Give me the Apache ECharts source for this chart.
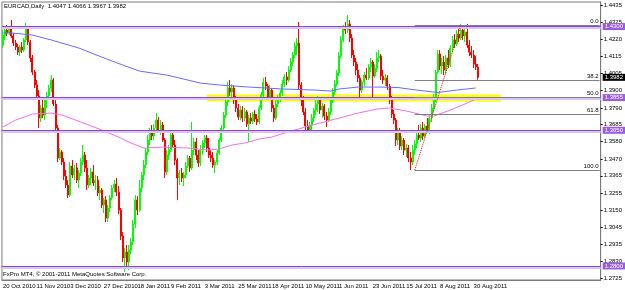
<!DOCTYPE html>
<html><head><meta charset="utf-8">
<script src="https://cdn.jsdelivr.net/npm/echarts@6/dist/echarts.min.js"></script>
<style>html,body{margin:0;padding:0;background:#fff}#c{width:625px;height:290px}</style>
</head><body><div id="c"></div>
<script>
// ---------- data ----------
const chartTitle = 'EURCAD,Daily  1.4047 1.4066 1.3967 1.3982';
const footerText = 'FxPro MT4, \u00a9 2001-2011 MetaQuotes Software Corp.';
const firstDay = [2010, 9, 20];     // 20 Oct 2010, trading weekdays
const slotCount = 285;              // visible bar slots incl. empty space on the right

const opens = [1.4184,1.4247,1.4278,1.4260,1.4291,1.4241,1.4197,1.4172,1.4140,1.4172,
1.4153,1.4216,1.4291,1.4203,1.4103,1.4015,1.3934,1.3865,1.3727,1.3790,
1.3746,1.3840,1.3865,1.3915,1.3965,1.3815,1.3664,1.3476,1.3514,1.3451,
1.3363,1.3307,1.3244,1.3426,1.3370,1.3414,1.3338,1.3382,1.3451,1.3495,
1.3414,1.3307,1.3351,1.3389,1.3320,1.3338,1.3257,1.3276,1.3182,1.3213,
1.3100,1.3163,1.3226,1.3288,1.3313,1.3263,1.3150,1.2987,1.2850,1.2887,
1.2825,1.2900,1.2950,1.3063,1.3213,1.3150,1.3288,1.3370,1.3432,1.3514,
1.3589,1.3639,1.3614,1.3664,1.3714,1.3652,1.3683,1.3589,1.3389,1.3495,
1.3526,1.3620,1.3558,1.3464,1.3351,1.3382,1.3351,1.3370,1.3426,1.3476,
1.3414,1.3526,1.3577,1.3495,1.3445,1.3526,1.3570,1.3602,1.3539,1.3495,
1.3476,1.3432,1.3451,1.3508,1.3589,1.3664,1.3746,1.3827,1.3915,1.3890,
1.3915,1.3840,1.3790,1.3733,1.3777,1.3727,1.3765,1.3689,1.3727,1.3708,
1.3752,1.3721,1.3702,1.3790,1.3871,1.3952,1.3927,1.3858,1.3902,1.3790,
1.3727,1.3815,1.3852,1.3884,1.3940,1.3984,1.3965,1.4028,1.4078,1.4122,
1.4178,1.4197,1.3934,1.3840,1.3765,1.3677,1.3652,1.3683,1.3727,1.3777,
1.3815,1.3840,1.3777,1.3802,1.3739,1.3714,1.3765,1.3840,1.3890,1.3940,
1.4009,1.4115,1.4216,1.4291,1.4278,1.4316,1.4228,1.4122,1.4078,1.4028,
1.3978,1.3902,1.3952,1.3996,1.3978,1.4047,1.4078,1.3990,1.4040,1.4103,
1.4115,1.3990,1.3965,1.3978,1.3927,1.3840,1.3752,1.3714,1.3589,1.3639,
1.3551,1.3589,1.3526,1.3539,1.3476,1.3451,1.3526,1.3564,1.3620,1.3602,
1.3664,1.3614,1.3677,1.3652,1.3727,1.3790,1.3852,1.4015,1.4128,1.4053,
1.4078,1.4028,1.4103,1.4059,1.4166,1.4216,1.4191,1.4253,1.4228,1.4278,
1.4241,1.4266,1.4184,1.4140,1.4122,1.4065,1.4047];

const highs = [1.4278,1.4303,1.4310,1.4297,1.4341,1.4260,1.4216,1.4191,1.4184,1.4203,
1.4228,1.4322,1.4303,1.4216,1.4122,1.4028,1.3965,1.3902,1.3808,1.3840,
1.3852,1.3890,1.3934,1.3996,1.3978,1.3840,1.3683,1.3539,1.3526,1.3476,
1.3401,1.3338,1.3451,1.3464,1.3432,1.3445,1.3401,1.3476,1.3558,1.3514,
1.3464,1.3370,1.3414,1.3432,1.3370,1.3363,1.3301,1.3288,1.3226,1.3238,
1.3182,1.3244,1.3307,1.3338,1.3351,1.3301,1.3163,1.3012,1.2912,1.2931,
1.2931,1.2975,1.3088,1.3244,1.3238,1.3338,1.3389,1.3464,1.3539,1.3620,
1.3664,1.3683,1.3689,1.3758,1.3733,1.3714,1.3702,1.3602,1.3526,1.3558,
1.3639,1.3652,1.3589,1.3476,1.3401,1.3414,1.3389,1.3451,1.3495,1.3489,
1.3702,1.3602,1.3602,1.3526,1.3558,1.3589,1.3620,1.3620,1.3602,1.3526,
1.3514,1.3464,1.3526,1.3602,1.3683,1.3765,1.3852,1.3952,1.3965,1.3940,
1.3934,1.3865,1.3815,1.3802,1.3802,1.3790,1.3777,1.3746,1.3758,1.3765,
1.3777,1.3752,1.3808,1.3890,1.3978,1.3984,1.3940,1.3934,1.3915,1.3808,
1.3840,1.3871,1.3902,1.3965,1.4003,1.4015,1.4053,1.4103,1.4140,1.4203,
1.4228,1.4328,1.3952,1.3865,1.3790,1.3714,1.3702,1.3752,1.3790,1.3840,
1.3865,1.3852,1.3821,1.3815,1.3765,1.3790,1.3852,1.3915,1.3965,1.4028,
1.4140,1.4241,1.4310,1.4328,1.4372,1.4341,1.4253,1.4153,1.4103,1.4065,
1.3996,1.3965,1.4015,1.4040,1.4065,1.4103,1.4090,1.4065,1.4140,1.4153,
1.4128,1.4028,1.4003,1.3996,1.3940,1.3865,1.3777,1.3727,1.3664,1.3664,
1.3614,1.3602,1.3564,1.3558,1.3514,1.3558,1.3589,1.3652,1.3683,1.3689,
1.3702,1.3689,1.3727,1.3752,1.3815,1.3877,1.4028,1.4153,1.4153,1.4103,
1.4115,1.4122,1.4153,1.4184,1.4241,1.4253,1.4278,1.4303,1.4316,1.4297,
1.4310,1.4316,1.4216,1.4178,1.4153,1.4115,1.4066];

const lows = [1.4166,1.4216,1.4241,1.4247,1.4228,1.4178,1.4153,1.4122,1.4115,1.4134,
1.4140,1.4203,1.4184,1.4078,1.3996,1.3915,1.3840,1.3664,1.3702,1.3727,
1.3714,1.3790,1.3840,1.3890,1.3802,1.3639,1.3451,1.3464,1.3432,1.3338,
1.3288,1.3226,1.3232,1.3351,1.3338,1.3320,1.3288,1.3363,1.3432,1.3389,
1.3276,1.3288,1.3307,1.3301,1.3276,1.3238,1.3213,1.3163,1.3132,1.3075,
1.3075,1.3138,1.3213,1.3263,1.3238,1.3125,1.2962,1.2825,1.2762,1.2787,
1.2774,1.2875,1.2931,1.3037,1.3119,1.3138,1.3263,1.3338,1.3414,1.3495,
1.3558,1.3589,1.3589,1.3639,1.3633,1.3620,1.3577,1.3351,1.3370,1.3464,
1.3514,1.3539,1.3432,1.3213,1.3307,1.3326,1.3301,1.3351,1.3414,1.3389,
1.3401,1.3495,1.3464,1.3420,1.3426,1.3495,1.3539,1.3514,1.3476,1.3451,
1.3414,1.3382,1.3432,1.3495,1.3577,1.3652,1.3727,1.3802,1.3865,1.3840,
1.3815,1.3765,1.3714,1.3714,1.3702,1.3708,1.3671,1.3577,1.3689,1.3689,
1.3702,1.3683,1.3689,1.3777,1.3852,1.3902,1.3840,1.3840,1.3765,1.3702,
1.3714,1.3796,1.3827,1.3865,1.3921,1.3934,1.3952,1.4015,1.4053,1.4103,
1.4122,1.3902,1.3802,1.3746,1.3652,1.3633,1.3633,1.3652,1.3702,1.3746,
1.3765,1.3752,1.3727,1.3714,1.3671,1.3702,1.3746,1.3821,1.3871,1.3927,
1.3990,1.4103,1.4203,1.4253,1.4260,1.4203,1.4103,1.4053,1.3996,1.3952,
1.3840,1.3884,1.3927,1.3965,1.3965,1.4015,1.3840,1.3978,1.4015,1.4078,
1.3965,1.3940,1.3927,1.3902,1.3815,1.3727,1.3689,1.3551,1.3558,1.3526,
1.3526,1.3495,1.3482,1.3451,1.3401,1.3432,1.3495,1.3539,1.3589,1.3577,
1.3589,1.3602,1.3639,1.3627,1.3702,1.3765,1.3827,1.4003,1.4028,1.4003,
1.3996,1.4003,1.4040,1.4047,1.4140,1.4166,1.4178,1.4203,1.4216,1.4216,
1.4203,1.4166,1.4115,1.4103,1.4040,1.4028,1.3967];

const closes = [1.4247,1.4278,1.4260,1.4291,1.4241,1.4197,1.4172,1.4140,1.4172,1.4153,
1.4216,1.4291,1.4203,1.4103,1.4015,1.3934,1.3865,1.3727,1.3790,1.3746,
1.3840,1.3865,1.3915,1.3965,1.3815,1.3664,1.3476,1.3514,1.3451,1.3363,
1.3307,1.3244,1.3426,1.3370,1.3414,1.3338,1.3382,1.3451,1.3495,1.3414,
1.3307,1.3351,1.3389,1.3320,1.3338,1.3257,1.3276,1.3182,1.3213,1.3100,
1.3163,1.3226,1.3288,1.3313,1.3263,1.3150,1.2987,1.2850,1.2887,1.2825,
1.2900,1.2950,1.3063,1.3213,1.3150,1.3288,1.3370,1.3432,1.3514,1.3589,
1.3639,1.3614,1.3664,1.3714,1.3652,1.3683,1.3589,1.3389,1.3495,1.3526,
1.3620,1.3558,1.3464,1.3351,1.3382,1.3351,1.3370,1.3426,1.3476,1.3414,
1.3526,1.3577,1.3495,1.3445,1.3526,1.3570,1.3602,1.3539,1.3495,1.3476,
1.3432,1.3451,1.3508,1.3589,1.3664,1.3746,1.3827,1.3915,1.3890,1.3915,
1.3840,1.3790,1.3733,1.3777,1.3727,1.3765,1.3689,1.3727,1.3708,1.3752,
1.3721,1.3702,1.3790,1.3871,1.3952,1.3927,1.3858,1.3902,1.3790,1.3727,
1.3815,1.3852,1.3884,1.3940,1.3984,1.3965,1.4028,1.4078,1.4122,1.4178,
1.4197,1.3934,1.3840,1.3765,1.3677,1.3652,1.3683,1.3727,1.3777,1.3815,
1.3840,1.3777,1.3802,1.3739,1.3714,1.3765,1.3840,1.3890,1.3940,1.4009,
1.4115,1.4216,1.4291,1.4278,1.4316,1.4228,1.4122,1.4078,1.4028,1.3978,
1.3902,1.3952,1.3996,1.3978,1.4047,1.4078,1.3990,1.4040,1.4103,1.4115,
1.3990,1.3965,1.3978,1.3927,1.3840,1.3752,1.3714,1.3589,1.3639,1.3551,
1.3589,1.3526,1.3539,1.3476,1.3451,1.3526,1.3564,1.3620,1.3602,1.3664,
1.3614,1.3677,1.3652,1.3727,1.3790,1.3852,1.4015,1.4128,1.4053,1.4078,
1.4028,1.4103,1.4059,1.4166,1.4216,1.4191,1.4253,1.4228,1.4278,1.4241,
1.4266,1.4184,1.4140,1.4122,1.4065,1.4047,1.3982];

// moving averages, sampled [barIndex, price]
const maSlow = [[0,1.4260],[4,1.4260],[14,1.4247],[23,1.4216],[36,1.4166],[47,1.4109],[57,1.4059],
[65,1.4021],[78,1.3996],[88,1.3965],[94,1.3946],[103,1.3934],[117,1.3921],[133,1.3909],[149,1.3902],
[156,1.3896],[160,1.3909],[169,1.3921],[180,1.3921],[188,1.3918],[197,1.3902],[207,1.3887],[216,1.3902],[225,1.3915]];
const maFast = [[0,1.3671],[6,1.3714],[14,1.3752],[23,1.3758],[28,1.3746],[37,1.3702],[47,1.3652],
[56,1.3602],[61,1.3570],[67,1.3539],[76,1.3545],[88,1.3539],[98,1.3526],[103,1.3533],[109,1.3558],
[115,1.3570],[122,1.3595],[128,1.3608],[137,1.3645],[149,1.3689],[160,1.3727],[169,1.3758],[178,1.3783],
[184,1.3790],[192,1.3771],[202,1.3739],[205,1.3739],[213,1.3777],[221,1.3821],[225,1.3846]];

const levelPrices = [1.4300, 1.3855, 1.3650, 1.2800];
const levelTexts = ['1.4300', '1.3855', '1.3650', '1.2800'];
const bidPrice = 1.3982;
const fibPrices = [1.4310, 1.3963, 1.3856, 1.3748, 1.3401];
const fibTexts = ['0.0', '38.2', '50.0', '61.8', '100.0'];
const fibAnchorLow = [196, 1.3401];
const fibAnchorHigh = [218, 1.4310];
const zoneBars = [97, 237];
const zonePrices = [1.3874, 1.3830];
const yTickValues = [1.2725, 1.2830, 1.2935, 1.3045, 1.3150, 1.3255, 1.3365, 1.3470, 1.3580,
  1.3685, 1.3790, 1.3900, 1.4005, 1.4115, 1.4220, 1.4325, 1.4435];
const labelEvery = 16;

// ---------- build ----------
const MON = ['Jan','Feb','Mar','Apr','May','Jun','Jul','Aug','Sep','Oct','Nov','Dec'];
const cats = [];
let t = Date.UTC(firstDay[0], firstDay[1], firstDay[2]);
while (cats.length < slotCount) {
  const d = new Date(t);
  const wd = d.getUTCDay();
  if (wd !== 0 && wd !== 6) cats.push(d.getUTCDate() + ' ' + MON[d.getUTCMonth()] + ' ' + d.getUTCFullYear());
  t += 86400000;
}
const nBars = opens.length;
const candles = opens.map((o, i) => [o, closes[i], lows[i], highs[i]]);
const showIdx = (i) => i % labelEvery === 0 && i < nBars;
const FONT = 'Liberation Sans';
const PURPLE = '#8c45dc';
const LAVENDER = '#dcc3f5';

const levelLine = (p, k) => ({
  yAxis: p,
  lineStyle: {color: PURPLE, width: 1, type: 'solid'},
  label: {show: true, position: 'end', distance: 2, formatter: levelTexts[k], color: '#fff',
          backgroundColor: '#9b5de0', padding: [1, 2, 0, 2], fontSize: 6, fontFamily: FONT}
});

const chart = echarts.init(document.getElementById('c'), null, {renderer: 'canvas'});
chart.setOption({
  animation: false,
  backgroundColor: '#ffffff',
  grid: {left: 0, right: 20, top: 2, bottom: 10, show: true, borderColor: '#7a7a7a', borderWidth: 1},
  xAxis: {
    type: 'category', data: cats, boundaryGap: true,
    axisLine: {lineStyle: {color: '#7a7a7a'}},
    axisTick: {alignWithLabel: true, interval: (i) => showIdx(i), length: 3, lineStyle: {color: '#000'}},
    axisLabel: {interval: (i) => showIdx(i), align: 'left', fontSize: 6, margin: 3, color: '#000', fontFamily: FONT},
    splitLine: {show: false}
  },
  yAxis: {
    type: 'value', position: 'right', min: 1.2712, max: 1.4454, scale: true,
    splitLine: {show: false},
    axisLine: {show: true, lineStyle: {color: '#7a7a7a'}},
    axisTick: {show: true, length: 2, customValues: yTickValues, lineStyle: {color: '#000'}},
    axisLabel: {customValues: yTickValues, formatter: (v) => v.toFixed(4), fontSize: 6, margin: 3, color: '#000', fontFamily: FONT}
  },
  graphic: [
    {type: 'text', left: 4, top: 3, style: {text: chartTitle, fontSize: 6, fill: '#000', fontFamily: FONT}},
    {type: 'text', left: 3, top: 271, style: {text: footerText, fontSize: 6, fill: '#000', fontFamily: FONT}}
  ],
  series: [
    {
      type: 'line', data: [], z: 1,
      markArea: {
        silent: true,
        itemStyle: {color: '#ffff00'},
        data: [[{coord: [cats[zoneBars[0]], zonePrices[0]]}, {coord: [cats[zoneBars[1]], zonePrices[1]]}]]
      }
    },
    {
      // lavender halo under each level line
      type: 'line', data: [], z: 2,
      markLine: {
        silent: true, symbol: 'none', animation: false, precision: 5,
        data: levelPrices.map((p) => ({yAxis: p - 0.0009, lineStyle: {color: LAVENDER, width: 2, type: 'solid'}, label: {show: false}}))
      }
    },
    {
      type: 'candlestick', data: candles, barWidth: 1.5, z: 3,
      itemStyle: {color: '#00ff00', color0: '#ff0000', borderColor: '#00ff00', borderColor0: '#ff0000', borderWidth: 1}
    },
    {type: 'line', data: maSlow, showSymbol: false, z: 4, lineStyle: {color: '#6a6aff', width: 1}},
    {type: 'line', data: maFast, showSymbol: false, z: 4, lineStyle: {color: '#f070f0', width: 1}},
    {
      type: 'line', data: [], z: 5,
      markLine: {
        silent: true, symbol: 'none', animation: false, precision: 4,
        data: levelPrices.map(levelLine).concat([{
          yAxis: bidPrice,
          lineStyle: {color: 'rgba(0,0,0,0)', width: 1},
          label: {show: true, position: 'end', distance: 2, formatter: bidPrice.toFixed(4), color: '#fff',
                  backgroundColor: '#000', padding: [1, 2, 0, 2], fontSize: 6, fontFamily: FONT}
        }])
      }
    },
    {
      type: 'line', data: [], z: 6,
      markLine: {
        silent: true, symbol: 'none', animation: false, precision: 4,
        data: fibPrices.map((p, k) => [
          {coord: [cats[fibAnchorLow[0]], p], lineStyle: {color: '#808080', width: 1, type: 'solid'},
           label: {show: true, position: 'insideEndTop', distance: [1, 1], formatter: fibTexts[k], color: '#000', fontSize: 6, fontFamily: FONT}},
          {coord: [cats[slotCount - 1], p]}
        ]).concat([[
          {coord: [cats[fibAnchorLow[0]], fibAnchorLow[1]], lineStyle: {color: '#ff0000', width: 1, type: 'dotted'}, label: {show: false}},
          {coord: [cats[fibAnchorHigh[0]], fibAnchorHigh[1]]}
        ]])
      }
    }
  ]
});
</script>
</body></html>
